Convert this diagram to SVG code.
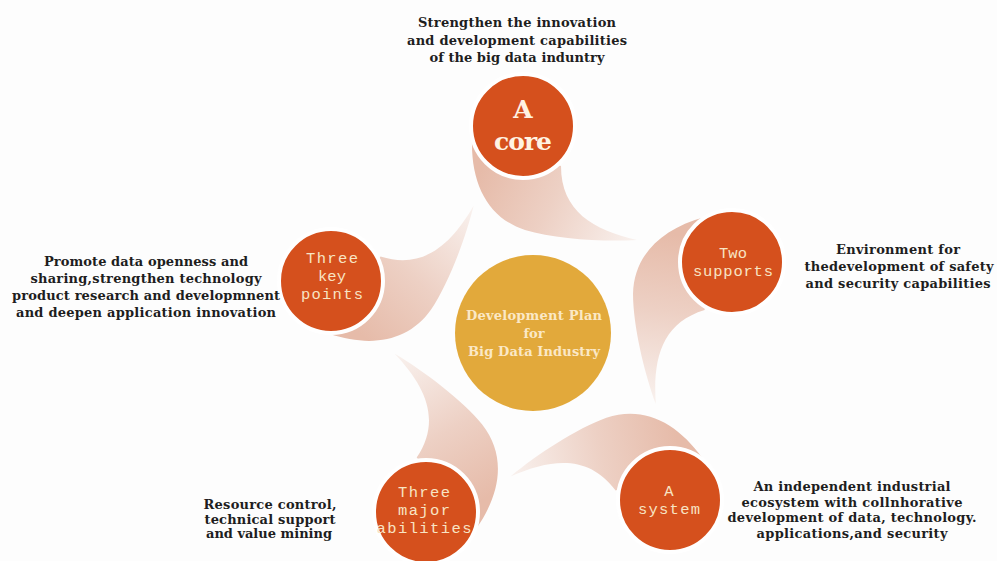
<svg xmlns="http://www.w3.org/2000/svg" xmlns:xlink="http://www.w3.org/1999/xlink" width="997" height="561" viewBox="0 0 997 561">
  <defs>
    <linearGradient id="tailGrad" gradientUnits="userSpaceOnUse" x1="-40" y1="40" x2="115" y2="114">
      <stop offset="0" stop-color="#e6bba9"/>
      <stop offset="0.45" stop-color="#edd0c4"/>
      <stop offset="1" stop-color="#f9f2ef"/>
    </linearGradient>
    <path id="tail" d="M -51,14 C -52,58 -35,92 2,104 C 32,113 80,116 114,114 C 70,104 38,85 38,40 Z" fill="url(#tailGrad)"/>
  </defs>
  <style>
    .node { fill: #d5501d; stroke: #ffffff; stroke-width: 4; }
    .hub { fill: #e2a93b; }
    .nt { font-family: "Liberation Mono", "DejaVu Sans Mono", monospace; font-size: 15.5px; fill: #f8e4c4; text-anchor: middle; }
    .big { font-family: "DejaVu Serif", "Liberation Serif", serif; font-weight: bold; font-size: 25px; fill: #fff3e3; text-anchor: middle; }
    .ht { font-family: "DejaVu Serif", "Liberation Serif", serif; font-weight: bold; font-size: 13px; fill: #fbe8c6; text-anchor: middle; }
    .lb { font-family: "DejaVu Serif", "Liberation Serif", serif; font-weight: bold; font-size: 13px; fill: #1e1e1e; text-anchor: middle; }
  </style>
  <rect width="997" height="561" fill="#fdfdfd"/>

  <g id="tails">
    <use xlink:href="#tail" href="#tail" transform="translate(523,126) rotate(0)"/>
    <use xlink:href="#tail" href="#tail" transform="translate(732,262) rotate(73.2)"/>
    <use xlink:href="#tail" href="#tail" transform="translate(670,500) rotate(143.4)"/>
    <use xlink:href="#tail" href="#tail" transform="translate(426,512) rotate(213.8)"/>
    <use xlink:href="#tail" href="#tail" transform="translate(331,281) rotate(287.2)"/>
  </g>

  <g id="connectors"></g>

  <g id="hub">
    <circle class="hub" cx="533" cy="333" r="78"/>
    <text class="ht" x="534" y="320" textLength="136" lengthAdjust="spacing">Development Plan</text>
    <text class="ht" x="534" y="338">for</text>
    <text class="ht" x="534" y="356" textLength="132" lengthAdjust="spacing">Big Data Industry</text>
  </g>

  <g id="node-core">
    <circle class="node" cx="523" cy="126" r="52"/>
    <text class="big" x="523" y="118">A</text>
    <text class="big" x="523" y="150" textLength="58" lengthAdjust="spacing">core</text>
    <text class="lb" x="517" y="27" textLength="198" lengthAdjust="spacing">Strengthen the innovation</text>
    <text class="lb" x="517" y="45" textLength="220" lengthAdjust="spacing">and development capabilities</text>
    <text class="lb" x="517" y="62" textLength="175" lengthAdjust="spacing">of the big data induntry</text>
  </g>

  <g id="node-supports">
    <circle class="node" cx="732" cy="262" r="52"/>
    <text class="nt" x="733" y="258">Two</text>
    <text class="nt" x="733" y="276" textLength="80" lengthAdjust="spacing">supports</text>
    <text class="lb" x="898" y="254" textLength="124" lengthAdjust="spacing">Environment for</text>
    <text class="lb" x="899" y="271" textLength="189" lengthAdjust="spacing">thedevelopment of safety</text>
    <text class="lb" x="898" y="288" textLength="185" lengthAdjust="spacing">and security capabilities</text>
  </g>

  <g id="node-system">
    <circle class="node" cx="670" cy="500" r="52"/>
    <text class="nt" x="669" y="496">A</text>
    <text class="nt" x="669" y="514" textLength="62" lengthAdjust="spacing">system</text>
    <text class="lb" x="852" y="491" textLength="197" lengthAdjust="spacing">An independent industrial</text>
    <text class="lb" x="852" y="507" textLength="221" lengthAdjust="spacing">ecosystem with collnhorative</text>
    <text class="lb" x="852" y="522" textLength="249" lengthAdjust="spacing">development of data, technology.</text>
    <text class="lb" x="852" y="538" textLength="191" lengthAdjust="spacing">applications,and security</text>
  </g>

  <g id="node-abilities">
    <circle class="node" cx="426" cy="512" r="52"/>
    <text class="nt" x="424" y="497" textLength="52" lengthAdjust="spacing">Three</text>
    <text class="nt" x="424" y="515" textLength="52" lengthAdjust="spacing">major</text>
    <text class="nt" x="424" y="533" textLength="95" lengthAdjust="spacing">abilities</text>
    <text class="lb" x="270" y="509" textLength="133" lengthAdjust="spacing">Resource control,</text>
    <text class="lb" x="270" y="524" textLength="131" lengthAdjust="spacing">technical support</text>
    <text class="lb" x="269" y="538" textLength="126" lengthAdjust="spacing">and value mining</text>
  </g>

  <g id="node-keypoints">
    <circle class="node" cx="331" cy="281" r="52"/>
    <text class="nt" x="332" y="263" textLength="52" lengthAdjust="spacing">Three</text>
    <text class="nt" x="332" y="281">key</text>
    <text class="nt" x="332" y="299" textLength="62" lengthAdjust="spacing">points</text>
    <text class="lb" x="146" y="266" textLength="204" lengthAdjust="spacing">Promote data openness and</text>
    <text class="lb" x="146" y="283" textLength="231" lengthAdjust="spacing">sharing,strengthen technology</text>
    <text class="lb" x="146" y="300" textLength="268" lengthAdjust="spacing">product research and developmnent</text>
    <text class="lb" x="146" y="317" textLength="260" lengthAdjust="spacing">and deepen application innovation</text>
  </g>
</svg>
